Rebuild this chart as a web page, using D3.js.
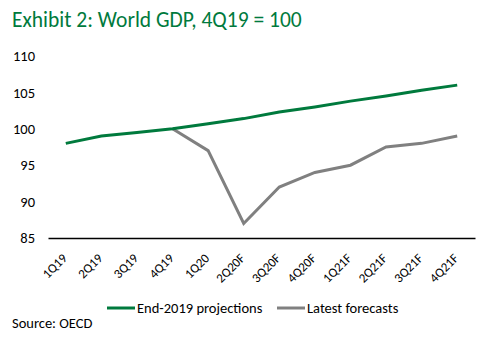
<!DOCTYPE html>
<html><head><meta charset="utf-8">
<script src="https://cdn.jsdelivr.net/npm/d3@7/dist/d3.min.js"></script>
<style>body{margin:0;background:#fff}svg{display:block}text{font-family:Carlito,"Open Sans",sans-serif}</style>
</head><body>
<svg id="c" width="487" height="337"></svg>
<script>
const categories = ["1Q19","2Q19","3Q19","4Q19","1Q20","2Q20F","3Q20F","4Q20F","1Q21F","2Q21F","3Q21F","4Q21F"];
const end2019 = [98, 99, 99.5, 100, 100.7, 101.4, 102.3, 103, 103.8, 104.5, 105.3, 106];
const latest = [null, null, null, 100, 97, 87, 92, 94, 95, 97.5, 98, 99];
const yTicks = [85, 90, 95, 100, 105, 110];
const seriesNames = ["End-2019 projections", "Latest forecasts"];
const colors = ["#007A3D", "#808080"];

const svg = d3.select("#c");
const x = d3.scaleBand().domain(categories).range([48, 475]);
const y = d3.scaleLinear().domain([85, 110]).range([238, 56]);

svg.append("text").attr("x", 12).attr("y", 27).attr("fill", "#007A3D")
  .attr("font-size", 21.5).text("Exhibit 2: World GDP, 4Q19 = 100");

const ya = svg.append("g").attr("transform", "translate(35,0)")
  .call(d3.axisLeft(y).tickValues(yTicks).tickSize(0).tickPadding(0));
ya.select(".domain").remove();
ya.selectAll("text").attr("font-size", 14.5).attr("fill", "#000").attr("font-family", "Carlito,'Open Sans',sans-serif");

const xa = svg.append("g").attr("transform", "translate(0,238)")
  .call(d3.axisBottom(x).tickSize(0).tickSizeOuter(0));
xa.select(".domain").attr("stroke", "#000").attr("stroke-width", 1.3);
xa.selectAll("text").attr("font-size", 13).attr("fill", "#000")
  .attr("font-family", "Carlito,'Open Sans',sans-serif")
  .attr("text-anchor", "end").attr("dy", 0).attr("y", 0)
  .attr("transform", "translate(2,21) rotate(-45)");

const line = d3.line().defined(d => d != null)
  .x((d, i) => x(categories[i]) + x.bandwidth() / 2).y(d => y(d));

svg.append("path").datum(latest).attr("d", line).attr("fill", "none")
  .attr("stroke", colors[1]).attr("stroke-width", 3);
svg.append("path").datum(end2019).attr("d", line).attr("fill", "none")
  .attr("stroke", colors[0]).attr("stroke-width", 3);

const leg = [[107, 137], [277, 307]];
seriesNames.forEach((n, i) => {
  svg.append("line").attr("x1", leg[i][0]).attr("x2", leg[i][0] + 28).attr("y1", 308).attr("y2", 308)
    .attr("stroke", colors[i]).attr("stroke-width", 3);
  svg.append("text").attr("x", leg[i][1]).attr("y", 313).attr("font-size", 14.5).attr("fill", "#000").text(n);
});
svg.append("text").attr("x", 12).attr("y", 328).attr("font-size", 14.5).attr("fill", "#000").text("Source: OECD");
</script>
</body></html>
